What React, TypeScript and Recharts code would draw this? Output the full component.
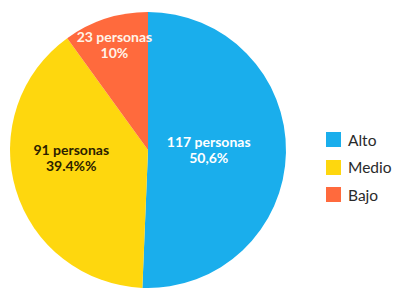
import { PieChart, Pie, Cell, Legend } from 'recharts'

const categories = ['Alto', 'Medio', 'Bajo']
const personas = [117, 91, 23]
const percentLabels = ['50,6%', '39.4%%', '10%']

const colors = ['#1aaeec', '#fed70e', '#ff6a3d']
const labelColors = ['#ffffff', '#2b2100', '#fff4e8']
// where each label sits: fraction of the radius and an angle nudge in degrees
const labelRadius = [0.44, 0.56, 0.79]
const labelNudge = [0, -10, 0]

const data = categories.map((name, i) => ({ name, value: personas[i], pct: percentLabels[i] }))

const RAD = Math.PI / 180

function renderLabel(props: any) {
  const { cx, cy, midAngle, outerRadius, index } = props
  const r = outerRadius * labelRadius[index]
  const a = (midAngle + labelNudge[index]) * RAD
  const x = cx + r * Math.cos(a)
  const y = cy - r * Math.sin(a)
  return (
    <text
      x={x}
      y={y}
      textAnchor="middle"
      fill={labelColors[index]}
      fontFamily="Lato, sans-serif"
      fontWeight={700}
      fontSize={14}
    >
      <tspan x={x} dy={-4}>{`${personas[index]} personas`}</tspan>
      <tspan x={x} dy={16}>{percentLabels[index]}</tspan>
    </text>
  )
}

function LegendBox() {
  return (
    <div style={{ fontFamily: 'Lato, sans-serif', fontSize: 15.5, color: '#2a2a2a' }}>
      {categories.map((c, i) => (
        <div key={c} style={{ display: 'flex', alignItems: 'center', height: 27.5 }}>
          <span style={{ width: 15, height: 15, background: colors[i], marginRight: 7, display: 'inline-block' }} />
          <span>{c}</span>
        </div>
      ))}
    </div>
  )
}

export default function App() {
  return (
    <div style={{ position: 'fixed', left: 0, top: 0, width: 396, height: 301, background: '#fff' }}>
      <PieChart width={396} height={301} margin={{ top: 0, right: 0, bottom: 0, left: 0 }}>
        <Pie
          data={data}
          dataKey="value"
          nameKey="name"
          cx={148}
          cy={150}
          outerRadius={138}
          startAngle={90}
          endAngle={-270}
          stroke="none"
          labelLine={false}
          label={renderLabel}
          isAnimationActive={false}
        >
          {data.map((d, i) => (
            <Cell key={d.name} fill={colors[i]} />
          ))}
        </Pie>
        <Legend content={<LegendBox />} wrapperStyle={{ left: 326, top: 126, width: 70 }} />
      </PieChart>
    </div>
  )
}
